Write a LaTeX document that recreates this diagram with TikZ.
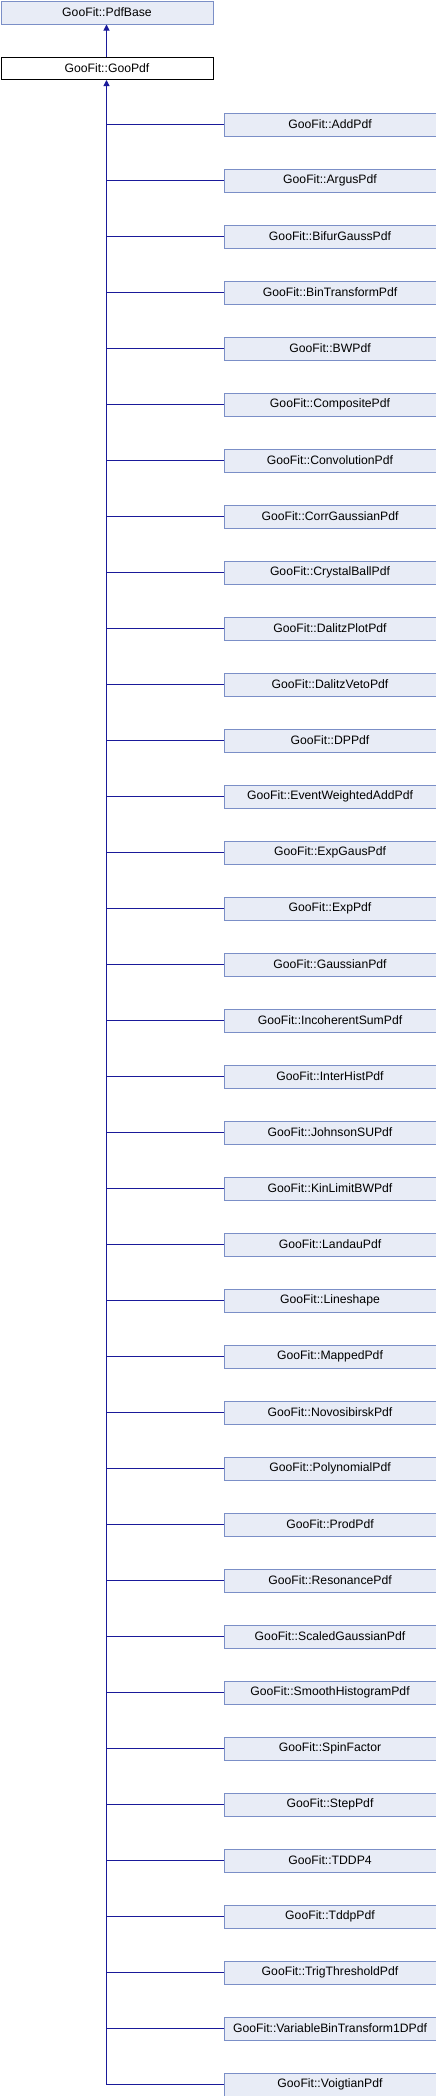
\documentclass[tikz,border=0pt]{standalone}
\usepackage{fontspec}
\setmainfont{Liberation Sans}
\usetikzlibrary{arrows.meta}
\definecolor{edgec}{HTML}{1A1A9A}
\definecolor{boxfill}{HTML}{E8ECF6}
\definecolor{boxline}{HTML}{7B8FC7}
\tikzset{
  cls/.style={draw=boxline, fill=boxfill, line width=1pt, minimum width=212pt, minimum height=23pt, inner sep=0pt, font=\fontsize{12.2}{14}\selectfont, anchor=north west},
  cur/.style={draw=black, fill=white, line width=1pt, minimum width=212pt, minimum height=22pt, inner sep=0pt, font=\fontsize{12.2}{14}\selectfont, anchor=north west},
  inh/.style={draw=edgec, line width=1pt},
  inharrow/.style={inh, -{Triangle[width=6pt,length=6pt]}}
}
\begin{document}
\begin{tikzpicture}[x=1pt,y=-1pt]
\useasboundingbox (0,0) rectangle (436,2096);
\node[cls] (base) at (0.5,0.5) {GooFit::PdfBase};
\node[cur] (goo) at (0.5,57) {GooFit::GooPdf};
\draw[inharrow] (goo.north -| 106.5,0) -- (base.south -| 106.5,0);
\coordinate (tb) at (106.5,79);
\foreach \n [count=\i from 0] in {AddPdf,ArgusPdf,BifurGaussPdf,BinTransformPdf,BWPdf,CompositePdf,ConvolutionPdf,CorrGaussianPdf,CrystalBallPdf,DalitzPlotPdf,DalitzVetoPdf,DPPdf,EventWeightedAddPdf,ExpGausPdf,ExpPdf,GaussianPdf,IncoherentSumPdf,InterHistPdf,JohnsonSUPdf,KinLimitBWPdf,LandauPdf,Lineshape,MappedPdf,NovosibirskPdf,PolynomialPdf,ProdPdf,ResonancePdf,ScaledGaussianPdf,SmoothHistogramPdf,SpinFactor,StepPdf,TDDP4,TddpPdf,TrigThresholdPdf,VariableBinTransform1DPdf,VoigtianPdf} {
  \node[cls] (c\i) at (223.5,{112.5+56*\i}) {GooFit::\n};
  \draw[inh] (c\i.west) -- (c\i.west -| tb);
}
\draw[inharrow] (c35.west -| tb) -- (goo.south -| tb);
\end{tikzpicture}
\end{document}
